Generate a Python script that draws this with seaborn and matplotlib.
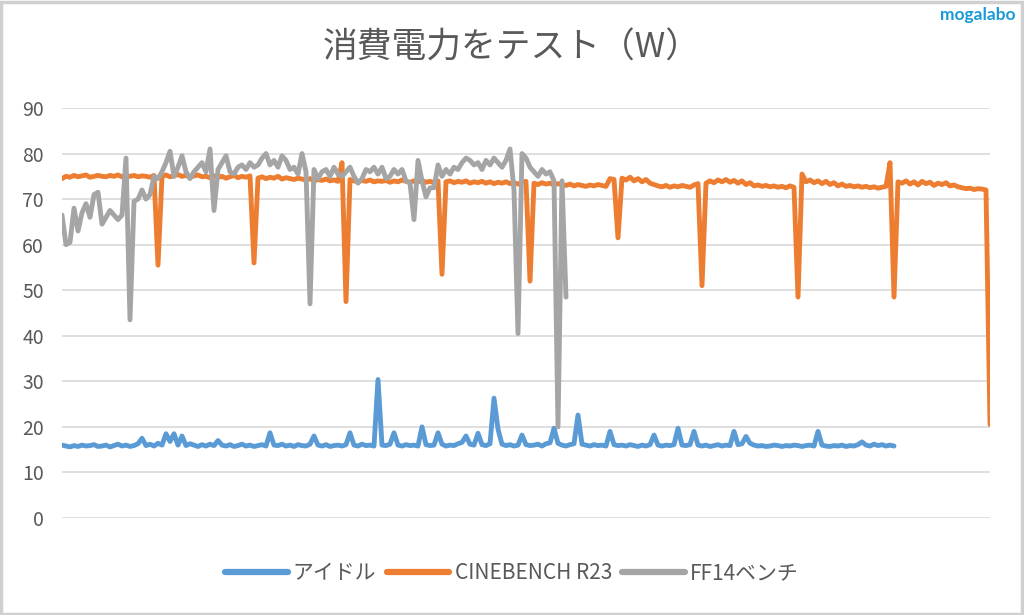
import matplotlib
matplotlib.use("Agg")
import matplotlib.pyplot as plt
import numpy as np
import pandas as pd
import seaborn as sns
from matplotlib.patches import Rectangle

# power draw samples (W), one sample per step
idle = [16, 15.8, 15.6, 15.9, 15.7, 16, 15.8, 15.9, 16.1, 15.7,
        15.8, 16, 15.6, 15.9, 16.2, 15.8, 16, 15.7, 15.9, 16.3,
        17.5, 15.9, 16.2, 15.8, 16.4, 16, 18.5, 16.8, 18.5, 16,
        18, 15.9, 16.3, 16, 15.7, 16.1, 15.8, 16.2, 15.9, 17,
        16, 15.8, 16.1, 15.7, 15.9, 16.2, 15.8, 16, 15.7, 15.9,
        16.1, 15.8, 18.7, 16, 15.9, 16.2, 15.8, 16, 15.7, 16.1,
        15.9, 15.8, 16.2, 18, 16, 15.8, 16.1, 15.7, 15.9, 16,
        15.8, 16.1, 18.7, 16, 15.8, 16.2, 15.9, 16, 15.8, 30.4,
        16, 15.9, 16.2, 18.7, 16, 15.8, 16.1, 15.9, 16, 15.8,
        20, 16.1, 15.9, 16, 18.7, 16.2, 15.8, 16, 15.9, 16.3,
        16.6, 18, 16.2, 16, 18.6, 16.1, 15.9, 16.3, 26.3, 19.5,
        16.2, 15.9, 16.1, 15.8, 16, 18.2, 16.1, 15.9, 16, 16.2,
        15.8, 16.3, 16.5, 19.7, 16.4, 16, 15.8, 16.1, 16.3, 22.6,
        16.2, 16, 15.8, 16.1, 15.9, 16, 15.8, 19, 16.1, 15.9,
        16, 15.8, 16.1, 15.9, 15.7, 16, 15.8, 16.1, 18.2, 16,
        15.8, 16, 15.9, 16.1, 19.7, 16, 15.9, 16.1, 19, 16,
        15.8, 16, 15.7, 15.9, 16.1, 15.8, 16, 15.9, 19, 16.1,
        16.3, 17.9, 16.4, 16, 15.8, 15.9, 15.7, 15.8, 16, 15.9,
        15.7, 15.9, 15.8, 16, 15.9, 15.7, 15.9, 16, 15.8, 19,
        16, 15.8, 15.7, 15.9, 15.8, 16, 15.7, 15.9, 15.8, 16.1,
        16.7, 16, 15.8, 16.2, 15.9, 16.1, 15.8, 16, 15.8]

cinebench = [74.5, 75, 74.8, 75.2, 74.9, 75.1, 75.3, 74.8, 75, 75.2,
             75, 74.9, 75.2, 75, 75.3, 74.9, 75.1, 75, 75.2, 74.9,
             75.1, 75, 74.8, 75.2, 55.5, 75, 75.3, 74.9, 75.1, 75.4,
             75, 75.2, 74.8, 75.1, 75.3, 74.9, 75, 74.7, 75.1, 74.8,
             75, 74.6, 74.9, 75.2, 74.7, 75, 74.8, 75.1, 56, 74.6,
             74.9, 74.5, 74.8, 74.6, 75, 74.4, 74.7, 74.5, 74.3, 74.6,
             74.4, 74.2, 74.5, 74, 74.3, 74.1, 74.4, 74, 74.2, 73.9,
             78, 47.5, 74.3, 74, 73.8, 74.1, 73.9, 74.2, 73.8, 74,
             73.9, 74.1, 73.7, 74, 73.8, 74.2, 73.9, 73.7, 74, 73.8,
             74.1, 73.7, 73.9, 73.6, 74, 53.5, 73.8, 74, 73.6, 73.9,
             73.7, 74, 73.5, 73.8, 73.6, 73.9, 73.5, 73.8, 73.4, 73.7,
             73.5, 73.8, 73.4, 73.6, 73.3, 73.7, 73.9, 52, 73.5, 73.2,
             73.6, 73.3, 73.5, 73.1, 73.4, 73.2, 73, 73.3, 72.9, 73.2,
             73, 72.8, 73.1, 72.9, 73.2, 73, 72.8, 74.5, 74.3, 61.5,
             74.6, 74.2, 74.8, 74, 74.5, 73.8, 74.3, 73.5, 73.2, 72.9,
             72.7, 73, 72.6, 72.9, 72.7, 73, 72.8, 72.6, 73.1, 73.4,
             51, 73.5, 74, 73.6, 74.2, 73.8, 74.3, 73.7, 74.1, 73.5,
             74, 73.2, 73.6, 72.9, 73.1, 72.8, 73, 72.7, 72.9, 72.6,
             72.8, 72.5, 72.9, 72.6, 48.5, 75.5, 73.8, 74.2, 73.6, 74,
             73.4, 73.9, 73.2, 73.6, 72.9, 73.3, 72.8, 73, 72.7, 72.9,
             72.6, 72.8, 72.5, 72.7, 72.4, 72.6, 72.8, 78, 48.5, 73.8,
             73.5, 74, 73.3, 73.8, 73.1, 73.9, 73.4, 73.7, 73, 73.5,
             73.2, 73.6, 72.9, 73.1, 72.7, 72.5, 72.3, 72.4, 72.1, 72.3,
             72.2, 72, 20.5]

ff14 = [66.5, 60, 60.5, 68, 63, 67, 69, 66, 71, 71.5,
        64.5, 66, 67.5, 66.5, 65.5, 66.5, 79, 43.5, 69.5, 70,
        72, 70, 71, 75, 74.5, 76, 78, 80.5, 75, 77,
        79.5, 76, 74.5, 76, 77, 78, 76, 81, 67.5, 76.5,
        78, 79.5, 76, 75.5, 77, 77.5, 76.5, 78, 77, 77.5,
        79, 80, 77.5, 78.5, 77, 79.5, 78.5, 76.5, 77, 75.5,
        80, 76, 47, 76.5, 74.5, 76, 76.5, 75, 77, 75.5,
        75, 76, 77, 75, 73.5, 74.5, 76.5, 76, 77, 75.5,
        77, 74.5, 75, 76.5, 75.5, 76.5, 74, 73.5, 65.5, 78.5,
        74, 70.5, 72.5, 72.5, 77.5, 75, 76.5, 75.5, 77, 76.5,
        78, 79, 78.5, 77.5, 78, 76.5, 78.5, 77.5, 79, 78,
        77, 78.5, 81, 72, 40.5, 80, 79, 77, 76, 75,
        76.5, 75.5, 76, 74, 20, 74, 48.5]

series_names = ["アイドル", "CINEBENCH R23", "FF14ベンチ"]
colors = ["#5B9BD5", "#ED7D31", "#A5A5A5"]
y_ticks = [0, 10, 20, 30, 40, 50, 60, 70, 80, 90]

frames = []
for name, vals in zip(series_names, [idle, cinebench, ff14]):
    frames.append(pd.DataFrame({"sample": np.arange(len(vals)), "watt": vals, "series": name}))
df = pd.concat(frames, ignore_index=True)

sns.set_theme(style="white")
plt.rcParams["font.family"] = ["Noto Sans CJK JP", "DejaVu Sans"]

fig = plt.figure(figsize=(10.24, 6.15), dpi=100)
ax = fig.add_axes([62 / 1024, 97 / 615, 928 / 1024, 410 / 615])

sns.lineplot(data=df, x="sample", y="watt", hue="series", hue_order=series_names,
             palette=colors, linewidth=3.5, ax=ax, sort=False, estimator=None)

ax.set_xlim(0, len(cinebench) - 1)
ax.set_ylim(0, 90)
ax.set_yticks(y_ticks)
ax.set_xticks([])
ax.yaxis.grid(True, color="#d9d9d9", linewidth=1.2)
ax.set_axisbelow(True)
for s in ax.spines.values():
    s.set_visible(False)
ax.tick_params(axis="y", length=0, pad=13, labelsize=14, labelcolor="#595959")
ax.set_xlabel("")
ax.set_ylabel("")

handles, labels = ax.get_legend_handles_labels()
ax.legend(handles, labels, loc="center", bbox_to_anchor=(0.5, 0.068),
          bbox_transform=fig.transFigure, ncol=3, frameon=False, fontsize=15,
          handlelength=3.0, handletextpad=0.25, columnspacing=0.5, labelcolor="#595959")
for line in ax.get_legend().get_lines():
    line.set_linewidth(4.5)

fig.text(0.5, 0.922, "消費電力をテスト（W）", ha="center", va="center",
         fontsize=25, color="#595959")
fig.text(0.992, 0.975, "mogalabo", ha="right", va="center", fontsize=12.5,
         fontweight="bold", color="#1a9ad6", family=["Lato", "DejaVu Sans"])

fig.patches.append(Rectangle((0.001, 0.002), 0.997, 0.995, transform=fig.transFigure,
                             fill=False, edgecolor="#d0d0d0", linewidth=2.5))

fig.savefig("out.png", dpi=100, facecolor="white")
